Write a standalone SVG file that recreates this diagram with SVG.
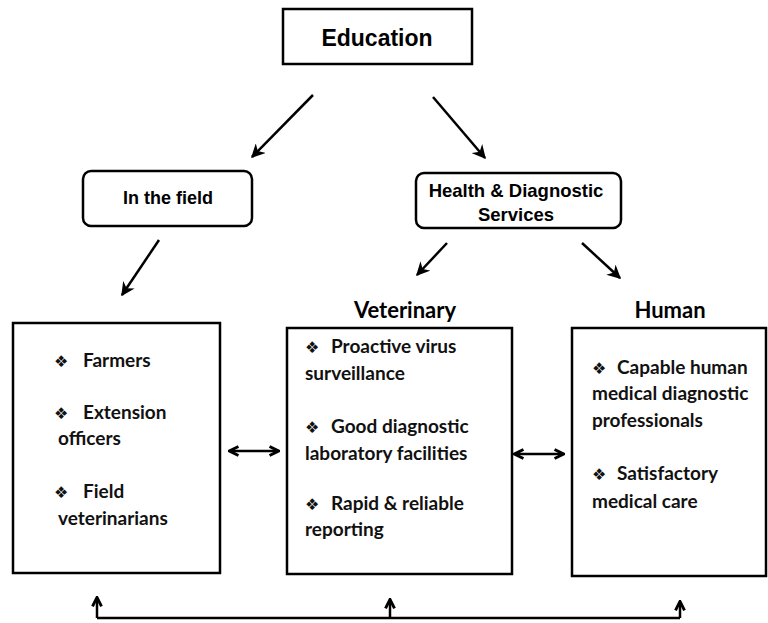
<svg xmlns="http://www.w3.org/2000/svg" width="768" height="623" viewBox="0 0 768 623">
<defs>
<marker id="ah" viewBox="0 0 10 10" refX="9" refY="5" markerWidth="5.5" markerHeight="5.5" orient="auto" markerUnits="strokeWidth">
<path d="M0,0 L10,5 L0,10 L3,5 z" fill="#000"/>
</marker>
<marker id="ch" viewBox="0 0 10 10" refX="8.5" refY="5" markerWidth="4.5" markerHeight="4.5" orient="auto-start-reverse" markerUnits="strokeWidth">
<path d="M1,1 L9,5 L1,9" fill="none" stroke="#000" stroke-width="2.6"/>
</marker>
</defs>
<style>
.box{fill:#fff;stroke:#000;stroke-width:2.5}
.ln{fill:none;stroke:#000;stroke-width:2.5}
.ar{fill:none;stroke:#000;stroke-width:2.5;marker-end:url(#ah)}
.hd{font-family:"Liberation Sans",Arial,sans-serif;font-weight:bold;fill:#000}
.cb{font-family:Lato,"Liberation Sans",sans-serif;font-weight:bold;fill:#111;font-size:19px}
.bl{font-family:"DejaVu Sans",sans-serif;font-size:16px}
.tt{font-family:Lato,"Liberation Sans",sans-serif;font-weight:bold;font-size:22px;fill:#000}
</style>
<rect width="768" height="623" fill="#fff"/>

<g id="education">
<rect class="box" x="283" y="9" width="189" height="55"/>
<text class="hd" x="377" y="46" font-size="23" text-anchor="middle">Education</text>
</g>

<g id="in-the-field">
<rect class="box" x="83" y="171" width="169" height="55" rx="8"/>
<text class="hd" x="168" y="204" font-size="18" text-anchor="middle">In the field</text>
</g>

<g id="health-diagnostic">
<rect class="box" x="416" y="173" width="205" height="55" rx="8"/>
<text class="hd" font-size="18.5" text-anchor="middle"><tspan x="516" y="197">Health &amp; Diagnostic</tspan><tspan x="516" y="221">Services</tspan></text>
</g>

<g id="field-people">
<rect class="box" x="13" y="323" width="207" height="250"/>
<text class="cb"><tspan class="bl" x="54" y="367">❖</tspan><tspan x="83" y="367">Farmers</tspan></text>
<text class="cb"><tspan class="bl" x="54" y="419">❖</tspan><tspan x="83" y="419">Extension</tspan><tspan x="58" y="445">officers</tspan></text>
<text class="cb"><tspan class="bl" x="54" y="498">❖</tspan><tspan x="83" y="498">Field</tspan><tspan x="58" y="525">veterinarians</tspan></text>
</g>

<g id="veterinary">
<text class="tt" x="405" y="318" text-anchor="middle">Veterinary</text>
<rect class="box" x="287" y="328" width="225" height="246"/>
<text class="cb"><tspan class="bl" x="305" y="353">❖</tspan><tspan x="331" y="353">Proactive virus</tspan><tspan x="305" y="380">surveillance</tspan></text>
<text class="cb"><tspan class="bl" x="305" y="433">❖</tspan><tspan x="331" y="433">Good diagnostic</tspan><tspan x="305" y="460">laboratory facilities</tspan></text>
<text class="cb"><tspan class="bl" x="305" y="510">❖</tspan><tspan x="331" y="510">Rapid &amp; reliable</tspan><tspan x="305" y="536">reporting</tspan></text>
</g>

<g id="human">
<text class="tt" x="670" y="318" text-anchor="middle">Human</text>
<rect class="box" x="572" y="328" width="194" height="248"/>
<text class="cb"><tspan class="bl" x="592" y="374">❖</tspan><tspan x="617" y="374">Capable human</tspan><tspan x="592" y="400">medical diagnostic</tspan><tspan x="592" y="427">professionals</tspan></text>
<text class="cb"><tspan class="bl" x="592" y="480">❖</tspan><tspan x="617" y="480">Satisfactory</tspan><tspan x="592" y="508">medical care</tspan></text>
</g>

<g id="connectors">
<line class="ar" x1="313" y1="95" x2="252" y2="157"/>
<line class="ar" x1="433" y1="97" x2="485" y2="158"/>
<line class="ar" x1="159" y1="240" x2="122" y2="295"/>
<line class="ar" x1="447" y1="243" x2="417" y2="275"/>
<line class="ar" x1="582" y1="243" x2="620" y2="278"/>
<line class="ln" x1="230" y1="451" x2="278" y2="451" marker-start="url(#ch)" marker-end="url(#ch)"/>
<line class="ln" x1="515" y1="454" x2="563" y2="454" marker-start="url(#ch)" marker-end="url(#ch)"/>
<polyline class="ln" points="97,618 680,618"/>
<line class="ln" x1="97" y1="618" x2="97" y2="598" marker-end="url(#ch)"/>
<line class="ln" x1="390" y1="618" x2="390" y2="600" marker-end="url(#ch)"/>
<line class="ln" x1="680" y1="618" x2="680" y2="602" marker-end="url(#ch)"/>
</g>
</svg>
